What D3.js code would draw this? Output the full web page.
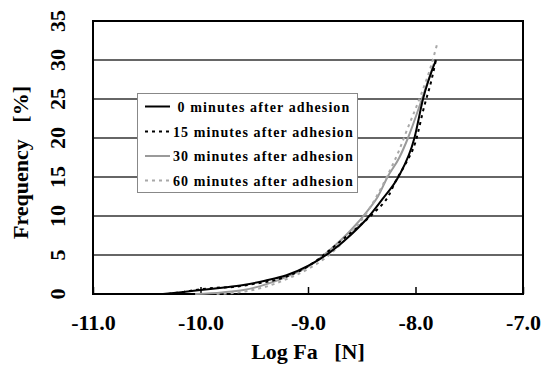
<!DOCTYPE html>
<html>
<head>
<meta charset="utf-8">
<script src="https://cdn.jsdelivr.net/npm/d3@7"></script>
<style>
  html, body { margin: 0; padding: 0; background: #fff; }
  svg { display: block; }
  text { font-family: 'Liberation Serif', 'Times New Roman', serif; font-weight: bold; fill: #000; }
</style>
</head>
<body>
<svg id="chart" width="543" height="372"></svg>
<script>
// ---- data ----
const xTicks = [-11.0, -10.0, -9.0, -8.0, -7.0];
const yTicks = [0, 5, 10, 15, 20, 25, 30, 35];
const seriesNames = [" 0 minutes after adhesion", "15 minutes after adhesion", "30 minutes after adhesion", "60 minutes after adhesion"];

const logFa0  = [-10.35, -10.2, -10.0, -9.8, -9.6, -9.4, -9.2, -9.0, -8.8, -8.6, -8.43, -8.3, -8.16, -8.01, -7.93, -7.81];
const freq0   = [0, 0.2, 0.5, 0.8, 1.15, 1.7, 2.4, 3.6, 5.3, 7.6, 10.0, 12.3, 15.0, 20.0, 25.0, 30.0];

const logFa15 = [-10.3, -10.15, -10.0, -9.85, -9.7, -9.5, -9.3, -9.1, -8.95, -8.8, -8.65, -8.5, -8.38, -8.25, -8.18, -8.1, -8.0, -7.92, -7.85, -7.81];
const freq15  = [0, 0.3, 0.6, 0.8, 0.9, 1.3, 1.8, 2.8, 4.0, 5.6, 7.3, 9.0, 10.5, 12.6, 14.6, 16.5, 19.5, 24.0, 27.5, 30.0];

const logFa30 = [-10.05, -9.8, -9.6, -9.4, -9.2, -9.0, -8.8, -8.6, -8.45, -8.35, -8.26, -8.15, -8.07, -7.94, -7.83];
const freq30  = [0, 0.2, 0.5, 1.2, 2.2, 3.5, 5.6, 8.2, 10.6, 12.5, 15.0, 17.5, 20.0, 25.0, 29.5];

const logFa60 = [-9.85, -9.6, -9.4, -9.2, -9.0, -8.85, -8.7, -8.55, -8.45, -8.35, -8.25, -8.15, -8.08, -7.95, -7.85, -7.8];
const freq60  = [0, 0.3, 0.9, 1.9, 3.2, 4.5, 6.3, 8.6, 10.5, 12.8, 15.5, 18.5, 21.0, 25.5, 29.5, 32.0];

const seriesX = [logFa0, logFa15, logFa30, logFa60];
const seriesY = [freq0, freq15, freq30, freq60];
const seriesColor = ["#000000", "#000000", "#9a9a9a", "#a8a8a8"];
const seriesDash = [null, "3,4", null, "3,4"];

// ---- layout ----
const svg = d3.select("#chart");
const L = 93, R = 523, T = 21, B = 294;
const x = d3.scaleLinear().domain([-11, -7]).range([L, R]);
const y = d3.scaleLinear().domain([0, 35]).range([B, T]);

// gridlines
svg.append("g").selectAll("line").data(yTicks.filter(d => d > 0 && d < 35)).join("line")
  .attr("x1", L).attr("x2", R)
  .attr("y1", d => y(d)).attr("y2", d => y(d))
  .attr("stroke", "#333").attr("stroke-width", 1.4);

// x axis ticks (inward)
const xAxis = d3.axisBottom(x).tickValues(xTicks).tickSize(-7).tickSizeOuter(0).tickFormat(d3.format(".1f"));
const gx = svg.append("g").attr("transform", `translate(0,${B})`).call(xAxis);
gx.select(".domain").remove();
gx.selectAll(".tick line").attr("stroke", "#000").attr("stroke-width", 1.5);
gx.selectAll(".tick text").attr("y", 36).attr("dy", null)
  .style("font-size", "22px").style("font-family", "'Liberation Serif', serif").style("font-weight", "bold")
  .text(d => d3.format(".1f")(d).replace("−", "-"));

// y axis labels (rotated)
const gy = svg.append("g");
gy.selectAll("text").data(yTicks).join("text")
  .attr("transform", d => `translate(65,${y(d)}) rotate(-90)`)
  .attr("text-anchor", "middle")
  .style("font-size", "22px")
  .text(d => d);

// frame
svg.append("rect").attr("x", L).attr("y", T).attr("width", R - L).attr("height", B - T)
  .attr("fill", "none").attr("stroke", "#000").attr("stroke-width", 2);

// lines
const line = d3.line().x(d => x(d[0])).y(d => y(d[1])).curve(d3.curveMonotoneX);
const order = [2, 3, 1, 0];
order.forEach(i => {
  const pts = seriesX[i].map((v, j) => [v, seriesY[i][j]]);
  svg.append("path").datum(pts)
    .attr("d", line)
    .attr("fill", "none")
    .attr("stroke", seriesColor[i])
    .attr("stroke-width", 2)
    .attr("stroke-dasharray", seriesDash[i]);
});

// axis titles
svg.append("text")
  .attr("x", 308).attr("y", 359)
  .attr("text-anchor", "middle")
  .style("font-size", "22px").style("white-space", "pre")
  .text("Log Fa   [N]");
svg.append("text")
  .attr("transform", "translate(28,162.5) rotate(-90)")
  .attr("text-anchor", "middle")
  .style("font-size", "22px").style("white-space", "pre")
  .text("Frequency   [%]");

// legend
const lg = svg.append("g");
lg.append("rect").attr("x", 137.5).attr("y", 93.5).attr("width", 220).attr("height", 99)
  .attr("fill", "#fff").attr("stroke", "#888").attr("stroke-width", 1);
const rowY = [106.5, 131.5, 156, 180.5];
seriesNames.forEach((name, i) => {
  lg.append("line").attr("x1", 145).attr("x2", 170)
    .attr("y1", rowY[i]).attr("y2", rowY[i])
    .attr("stroke", seriesColor[i]).attr("stroke-width", 2)
    .attr("stroke-dasharray", seriesDash[i]);
  lg.append("text").attr("x", 173).attr("y", rowY[i] + 5)
    .style("font-size", "14px").style("letter-spacing", "1.1px").style("white-space", "pre")
    .text(name);
});
</script>
</body>
</html>
